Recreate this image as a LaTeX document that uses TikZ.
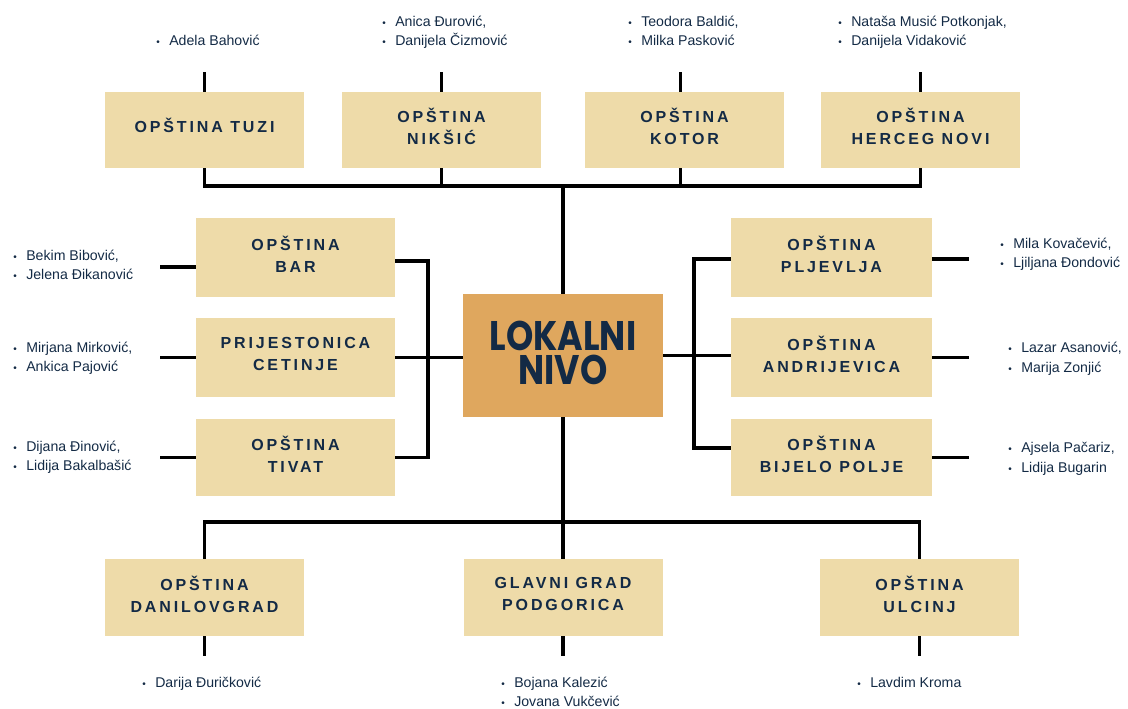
\documentclass[tikz,border=0pt]{standalone}
\usepackage{fontspec}
\setmainfont{Liberation Sans}
\newfontfamily\boxfont{Liberation Sans Bold}[LetterSpace=18]
\newfontfamily\bigfont{Poppins}
\definecolor{boxfill}{HTML}{EEDBA9}
\definecolor{centerfill}{HTML}{DFA75E}
\definecolor{navy}{HTML}{132A45}
\newcommand\bl{\makebox[9.75pt][l]{\fontsize{7.5}{7.5}\selectfont\textbullet}}
\tikzset{
  muni/.style={fill=boxfill, minimum width=149.25pt, minimum height=58pt, inner sep=0pt,
    align=center, font=\boxfont\fontsize{12}{16.5}\selectfont, text=navy, text depth=5.5pt},
  conn/.style={line width=2.4pt, black},
  nm/.style={anchor=base west, inner sep=0pt, font=\fontsize{10.6}{12}\selectfont, text=navy},
}
\begin{document}
\begin{tikzpicture}[x=0.75pt,y=-0.75pt]
\useasboundingbox (0,0) rectangle (1128,708);
% boxes
\node[muni, minimum height=57pt, text depth=7pt] (tuzi) at (204.5,130) {OPŠTINA TUZI};
\node[muni, minimum height=57pt] (niksic) at (441.5,130) {OPŠTINA\\NIKŠIĆ};
\node[muni, minimum height=57pt] (kotor) at (684.5,130) {OPŠTINA\\KOTOR};
\node[muni, minimum height=57pt] (herceg) at (920.5,130) {OPŠTINA\\HERCEG NOVI};
\node[muni, minimum height=59pt] (bar) at (295.5,257.5) {OPŠTINA\\BAR};
\node[muni, minimum height=59pt] (cetinje) at (295.5,357.5) {PRIJESTONICA\\CETINJE};
\node[muni, minimum height=58pt] (tivat) at (295.5,457.5) {OPŠTINA\\TIVAT};
\node[muni, minimum height=59pt, minimum width=150.5pt] (pljevlja) at (831.5,257.5) {OPŠTINA\\PLJEVLJA};
\node[muni, minimum height=59pt, minimum width=150.5pt] (andrijevica) at (831.5,357.5) {OPŠTINA\\ANDRIJEVICA};
\node[muni, minimum height=58pt, minimum width=150.5pt] (bijelo) at (831.5,457.5) {OPŠTINA\\BIJELO POLJE};
\node[muni, minimum height=57.75pt] (danilo) at (204.5,597.5) {OPŠTINA\\DANILOVGRAD};
\node[muni, minimum height=57.75pt] (podgorica) at (563,597.5) {GLAVNI GRAD\\PODGORICA};
\node[muni, minimum height=57.75pt] (ulcinj) at (919.5,597.5) {OPŠTINA\\ULCINJ};
\node[fill=centerfill, minimum width=150pt, minimum height=92.25pt, inner sep=0pt, align=center,
  text=navy, text depth=4pt, font=\bigfont\bfseries\fontsize{31}{26}\selectfont] (lok) at (563,355.5)
  {\scalebox{0.84}[1]{LOKALNI}\\\scalebox{0.84}[1]{NIVO}};
% top connectors
\coordinate (tb) at (563,186);
\draw[conn] (tuzi.south) |- (tb) -| (herceg.south);
\draw[conn] (niksic.south) -- (niksic.south |- tb);
\draw[conn] ([xshift=-3pt]kotor.south) -- ([xshift=-3pt]kotor.south |- tb);
\draw[conn] (tb) -- (lok.north);
\draw[conn] (tuzi.north) -- ++(0,-20);
\draw[conn] (niksic.north) -- ++(0,-20);
\draw[conn] ([xshift=-3pt]kotor.north) -- ++(0,-20);
\draw[conn] (herceg.north) -- ++(0,-20);
% left connectors
\coordinate (lv) at (428,357);
\draw[conn] ([yshift=-2.6pt]bar.east) -| (lv) |- (tivat.east);
\draw[conn] (cetinje.east) -- (cetinje.east -| lok.west);
\draw[conn] ([yshift=-7.1pt]bar.west) -- ++(-36,0);
\draw[conn] (cetinje.west) -- ++(-36,0);
\draw[conn] (tivat.west) -- ++(-36,0);
% right connectors
\coordinate (rv) at (694,355.5);
\draw[conn] ([yshift=-1.1pt]pljevlja.west) -| (rv) |- ([yshift=7.1pt]bijelo.west);
\draw[conn] (lok.east) -- (lok.east -| andrijevica.west);
\draw[conn] ([yshift=-1.1pt]pljevlja.east) -- ++(37,0);
\draw[conn] (andrijevica.east) -- ++(37,0);
\draw[conn] (bijelo.east) -- ++(37,0);
% bottom connectors
\coordinate (bb) at (563,522);
\draw[conn] (lok.south) -- (podgorica.north);
\draw[conn] (danilo.north) |- (bb) -| (ulcinj.north);
\draw[conn] (danilo.south) -- ++(0,20);
\draw[conn] (podgorica.south) -- ++(0,20);
\draw[conn] (ulcinj.south) -- ++(0,20);
% names
\node[nm] (n1) at (156,45) {\bl Adela Bahović};
\node[nm] (n2a) at (382,26) {\bl Anica Đurović,};
\node[nm] (n2b) at (382,45) {\bl Danijela Čizmović};
\node[nm] (n3a) at (628,26) {\bl Teodora Baldić,};
\node[nm] (n3b) at (628,45) {\bl Milka Pasković};
\node[nm] (n4a) at (838,26) {\bl Nataša Musić Potkonjak,};
\node[nm] (n4b) at (838,45) {\bl Danijela Vidaković};
\node[nm] (n5a) at (13,260) {\bl Bekim Bibović,};
\node[nm] (n5b) at (13,279) {\bl Jelena Đikanović};
\node[nm] (n6a) at (13,352) {\bl Mirjana Mirković,};
\node[nm] (n6b) at (13,371) {\bl Ankica Pajović};
\node[nm] (n7a) at (13,451) {\bl Dijana Đinović,};
\node[nm] (n7b) at (13,470) {\bl Lidija Bakalbašić};
\node[nm] (n8a) at (1000,248) {\bl Mila Kovačević,};
\node[nm] (n8b) at (1000,267) {\bl Ljiljana Đondović};
\node[nm] (n9a) at (1008,352) {\bl Lazar Asanović,};
\node[nm] (n9b) at (1008,372) {\bl Marija Zonjić};
\node[nm] (n10a) at (1008,452) {\bl Ajsela Pačariz,};
\node[nm] (n10b) at (1008,472) {\bl Lidija Bugarin};
\node[nm] (n11) at (142,687) {\bl Darija Đuričković};
\node[nm] (n12a) at (501,687) {\bl Bojana Kalezić};
\node[nm] (n12b) at (501,706) {\bl Jovana Vukčević};
\node[nm] (n13) at (857,687) {\bl Lavdim Kroma};
\end{tikzpicture}
\end{document}
